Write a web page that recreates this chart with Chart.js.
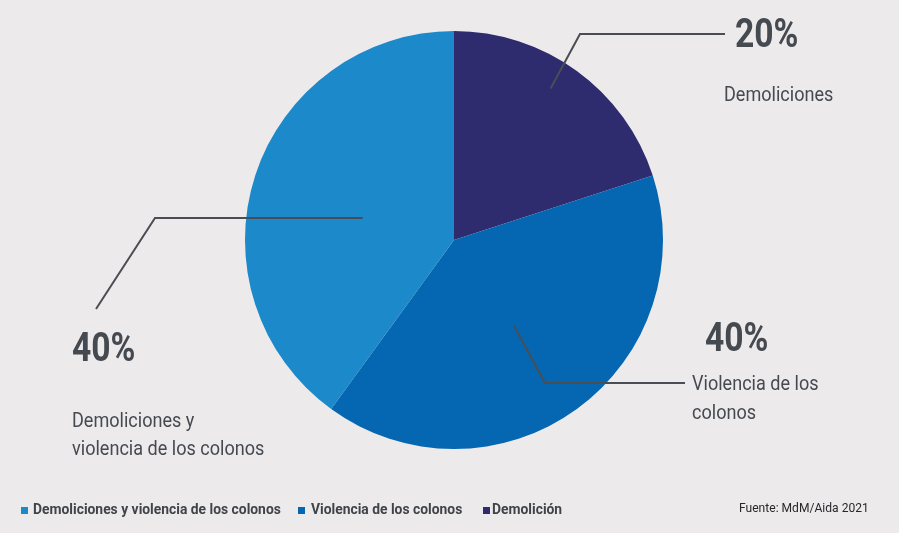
<!DOCTYPE html>
<html>
<head>
<meta charset="utf-8">
<script src="https://cdn.jsdelivr.net/npm/chart.js@4.4.1/dist/chart.umd.min.js"></script>
<style>
  html, body { margin: 0; padding: 0; background: #edeaeb; }
  #wrap { width: 899px; height: 533px; position: relative; }
</style>
</head>
<body>
<div id="wrap"><canvas id="pie" width="899" height="533"></canvas></div>
<script>
// datos del grafico
const categories = ['Demolición', 'Violencia de los colonos', 'Demoliciones y violencia de los colonos'];
const values = [20, 40, 40];
const colors = ['#2e2b6f', '#0566b1', '#1c89ca'];
const labelLines = [['Demoliciones'], ['Violencia de los', 'colonos'], ['Demoliciones y', 'violencia de los colonos']];
const source = 'Fuente: MdM/Aida 2021';

const FONT = 'Roboto, "Noto Sans", sans-serif';
const TEXT = '#454a51';

// texto "condensado" (escala horizontal)
function drawText(ctx, text, x, y, size, weight, color, sx) {
  ctx.save();
  ctx.font = weight + ' ' + size + 'px ' + FONT;
  ctx.fillStyle = color;
  ctx.textBaseline = 'middle';
  ctx.textAlign = 'left';
  ctx.translate(x, y);
  ctx.scale(sx, 1);
  ctx.fillText(text, 0, 0);
  const w = ctx.measureText(text).width * sx;
  ctx.restore();
  return w;
}

// lineas guia + etiquetas (offset = grados respecto al centro del sector)
const callouts = [
  { frac: 0.86, offset: -3.5, elbow: [580, 34], end: [725, 34], pct: [735, 37], text: [724, 96], lh: 29 },
  { frac: 0.50, offset: 1, elbow: [545, 383], end: [685, 383], pct: [705, 341], text: [692, 385], lh: 29 },
  { frac: 0.45, offset: -4.4, elbow: [155, 218], end: [96, 309], pct: [72, 351], text: [72, 422], lh: 28 }
];

// posiciones de la leyenda (cuadro x, inicio del texto respecto al cuadro)
const legendPos = [[21, 12], [298, 13], [483, 9]];

const labelPlugin = {
  id: 'labelPlugin',
  afterDatasetsDraw(chart) {
    const ctx = chart.ctx;
    const arcs = chart.getDatasetMeta(0).data;
    arcs.forEach((arc, i) => {
      const p = arc.getProps(['x', 'y', 'startAngle', 'endAngle', 'outerRadius'], true);
      const c = callouts[i];
      const mid = (p.startAngle + p.endAngle) / 2 + c.offset * Math.PI / 180;
      const sx = p.x + Math.cos(mid) * p.outerRadius * c.frac;
      const sy = p.y + Math.sin(mid) * p.outerRadius * c.frac;
      ctx.save();
      ctx.strokeStyle = '#4a4e54';
      ctx.lineWidth = 2;
      ctx.beginPath();
      ctx.moveTo(sx, sy);
      ctx.lineTo(c.elbow[0], c.elbow[1]);
      ctx.lineTo(c.end[0], c.end[1]);
      ctx.stroke();
      ctx.restore();
      drawText(ctx, values[i] + '%', c.pct[0], c.pct[1], 41, 'bold', TEXT, 0.82);
      labelLines[i].forEach((line, j) => {
        drawText(ctx, line, c.text[0], c.text[1] + j * c.lh, 21, 'normal', TEXT, 0.86);
      });
    });

    // leyenda (orden inverso)
    const ly = 510.5;
    for (let k = categories.length - 1, n = 0; k >= 0; k--, n++) {
      const [x, gap] = legendPos[n];
      ctx.fillStyle = colors[k];
      ctx.fillRect(x, ly - 3.5, 7, 7);
      drawText(ctx, categories[k], x + gap, ly, 14, 'bold', '#3f4449', 0.99);
    }
    drawText(ctx, source, 739, 509, 13.5, 'normal', '#26282b', 0.895);
  }
};

new Chart(document.getElementById('pie'), {
  type: 'pie',
  data: {
    labels: categories,
    datasets: [{
      data: values,
      backgroundColor: colors,
      borderWidth: 0
    }]
  },
  options: {
    responsive: false,
    animation: false,
    layout: { padding: { left: 245, right: 236, top: 31, bottom: 84 } },
    plugins: {
      legend: { display: false },
      tooltip: { enabled: false }
    }
  },
  plugins: [labelPlugin]
});
</script>
</body>
</html>
